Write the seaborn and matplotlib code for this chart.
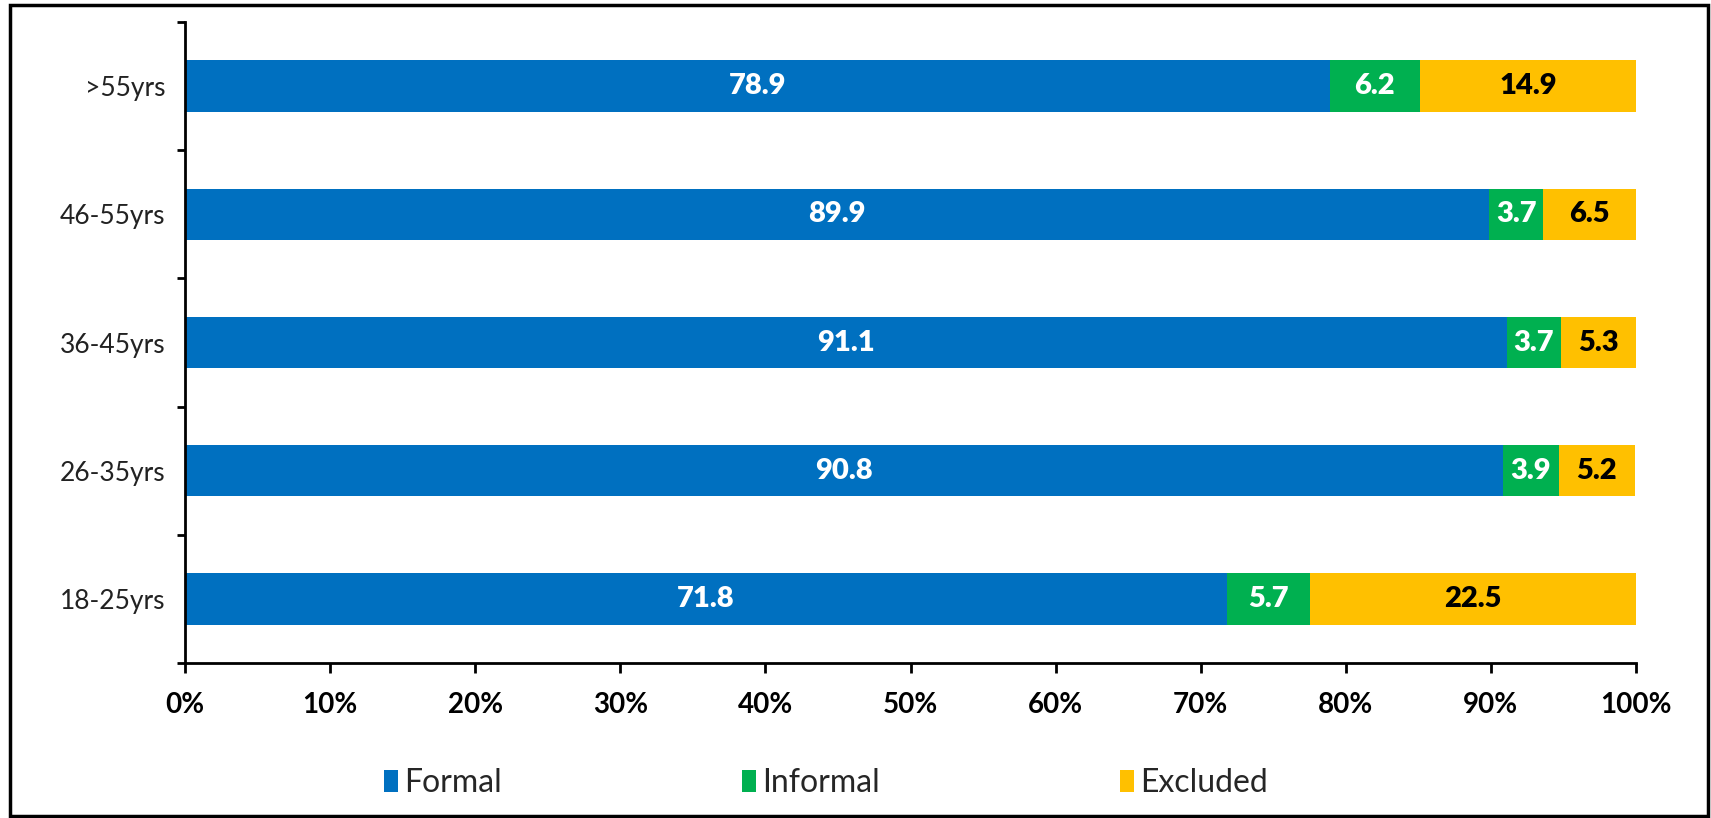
import matplotlib
matplotlib.use("Agg")
import matplotlib.pyplot as plt
from matplotlib.patches import Rectangle, Patch
from matplotlib.ticker import FixedLocator, FuncFormatter
import numpy as np
import pandas as pd
import seaborn as sns

# Age groups, top to bottom
age_groups = [">55yrs", "46-55yrs", "36-45yrs", "26-35yrs", "18-25yrs"]
formal = [78.9, 89.9, 91.1, 90.8, 71.8]
informal = [6.2, 3.7, 3.7, 3.9, 5.7]
excluded = [14.9, 6.5, 5.3, 5.2, 22.5]

series_names = ["Formal", "Informal", "Excluded"]
series_colors = ["#0070C0", "#00B050", "#FFC000"]
label_colors = ["white", "white", "black"]
x_ticks = [0, 10, 20, 30, 40, 50, 60, 70, 80, 90, 100]

sns.set_theme(style="white")
plt.rcParams["font.family"] = ["Lato", "DejaVu Sans"]

df = pd.DataFrame({
    "group": age_groups,
    "Formal": formal,
    "Informal": informal,
    "Excluded": excluded,
})
df["cum_formal"] = df["Formal"]
df["cum_informal"] = df["Formal"] + df["Informal"]
df["cum_excluded"] = df["Formal"] + df["Informal"] + df["Excluded"]

fig = plt.figure(figsize=(17.11, 8.18), dpi=100)
ax = fig.add_axes([185 / 1711, 1 - 663 / 818, (1636 - 185) / 1711, (663 - 22) / 818])

# Layered bars: widest (cumulative) first so each segment shows its own share
for col, color in zip(["cum_excluded", "cum_informal", "cum_formal"],
                      series_colors[::-1]):
    sns.barplot(data=df, y="group", x=col, order=age_groups, orient="y",
                color=color, width=0.4, saturation=1, ax=ax, errorbar=None,
                linewidth=0, edgecolor="none")

# Segment labels centred in each piece
for i in range(len(age_groups)):
    starts = [0, formal[i], formal[i] + informal[i]]
    vals = [formal[i], informal[i], excluded[i]]
    for s, v, c in zip(starts, vals, label_colors):
        ax.text(min(s + v / 2, (s + 100) / 2), i, f"{v:.1f}", ha="center", va="center",
                color=c, fontsize=21, fontweight="heavy")

ax.set_xlim(0, 100)
ax.set_ylim(len(age_groups) - 0.5, -0.5)
ax.set_xlabel("")
ax.set_ylabel("")

ax.xaxis.set_major_locator(FixedLocator(x_ticks))
ax.xaxis.set_major_formatter(FuncFormatter(lambda v, p: f"{int(v)}%"))
ax.tick_params(axis="x", bottom=True, length=7, width=2, direction="out",
               labelsize=20, pad=14, color="black", labelcolor="black")
for lab in ax.get_xticklabels():
    lab.set_fontweight("bold")

ax.yaxis.set_minor_locator(FixedLocator(np.arange(-0.5, len(age_groups), 1.0)))
ax.tick_params(axis="y", which="major", left=False, length=0, labelsize=19,
               pad=14, labelcolor="#222222")
ax.tick_params(axis="y", which="minor", left=True, length=6, width=2,
               direction="out", color="black")

for side in ["top", "right"]:
    ax.spines[side].set_visible(False)
for side in ["left", "bottom"]:
    ax.spines[side].set_color("black")
    ax.spines[side].set_linewidth(2)

handles = [Patch(facecolor=c, edgecolor="none", label=n)
           for n, c in zip(series_names, series_colors)]
fig.legend(handles=handles, loc="center", bbox_to_anchor=(826 / 1711, 1 - 783 / 818),
           ncol=3, frameon=False, fontsize=23, handlelength=0.45, handleheight=0.7,
           handletextpad=0.2, columnspacing=7.5)

# Outer frame around the whole figure
fig.patches.append(Rectangle((10 / 1711, 2 / 818), 1698 / 1711, 811 / 818,
                             transform=fig.transFigure, fill=False,
                             edgecolor="black", linewidth=2.5))

fig.savefig("out.png", dpi=100, facecolor="white")
